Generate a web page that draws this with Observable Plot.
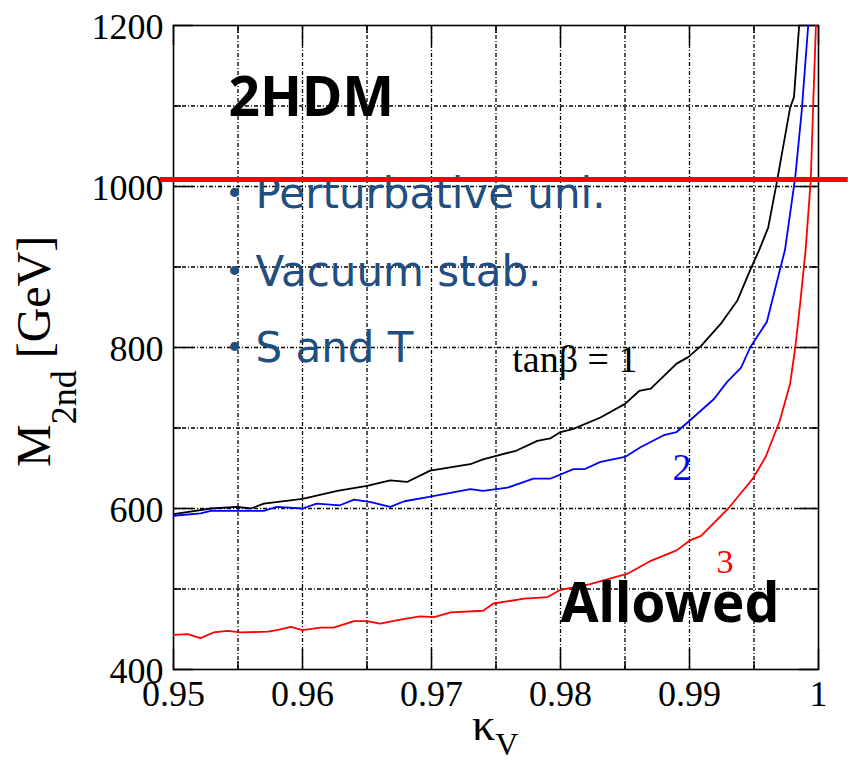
<!DOCTYPE html>
<html>
<head>
<meta charset="utf-8">
<script src="https://cdn.jsdelivr.net/npm/d3@7"></script>
<script src="https://cdn.jsdelivr.net/npm/@observablehq/plot@0.6"></script>
<style>
  html, body { margin: 0; padding: 0; background: #fff; }
  #chart svg { display: block; }
</style>
</head>
<body>
<div id="chart"></div>
<script>
// Upper bound on the second-heaviest Higgs mass vs. kappa_V in the 2HDM
const kappa1 = [0.95, 0.9529, 0.9549, 0.956, 0.957, 0.960, 0.9627, 0.965, 0.9668, 0.9681, 0.9699, 0.973, 0.974, 0.9766, 0.9782, 0.9792, 0.98, 0.981, 0.9831, 0.985, 0.9861, 0.987, 0.989, 0.9899, 0.9909, 0.9924, 0.9937, 0.9947, 0.9954, 0.9961, 0.9968, 0.9978, 0.9981, 0.9985];
const mass1  = [593, 600, 602, 600, 606, 612, 622, 628, 635, 633, 647, 655, 661, 672, 684, 687, 695, 699, 713, 730, 746, 749, 780, 788, 802, 829, 858, 896, 921, 949, 1008, 1098, 1111, 1200];

const kappa2 = [0.95, 0.9521, 0.9529, 0.9549, 0.957, 0.958, 0.96, 0.9611, 0.9629, 0.964, 0.9653, 0.9668, 0.9679, 0.9697, 0.973, 0.974, 0.9759, 0.9779, 0.9792, 0.981, 0.9819, 0.9831, 0.985, 0.9862, 0.988, 0.989, 0.99, 0.9919, 0.9929, 0.994, 0.9947, 0.996, 0.997, 0.9974, 0.9982, 0.9987, 0.9992];
const mass2  = [591, 594, 597, 597, 597, 602, 600, 606, 604, 611, 608, 602, 609, 614, 624, 622, 626, 637, 637, 649, 649, 658, 664, 676, 691, 695, 709, 736, 757, 775, 800, 832, 896, 921, 1012, 1094, 1200];

const kappa3 = [0.95, 0.9511, 0.9521, 0.9531, 0.9542, 0.9552, 0.9573, 0.958, 0.9591, 0.96, 0.9614, 0.9624, 0.964, 0.965, 0.966, 0.9676, 0.9691, 0.9702, 0.9715, 0.974, 0.9748, 0.9772, 0.979, 0.98, 0.9823, 0.9852, 0.987, 0.989, 0.99, 0.9909, 0.993, 0.9949, 0.9959, 0.997, 0.9978, 0.9982, 0.9986, 0.999, 0.9994, 0.9996, 0.9998];
const mass3  = [443, 444, 439, 446, 448, 446, 447, 449, 453, 449, 452, 452, 460, 460, 457, 462, 466, 465, 471, 473, 482, 488, 490, 499, 506, 519, 535, 548, 560, 566, 600, 637, 664, 709, 755, 800, 858, 921, 1008, 1107, 1200];

const xTicks = [0.95, 0.96, 0.97, 0.98, 0.99, 1];
const xMinor = [0.955, 0.965, 0.975, 0.985, 0.995];
const yTicks = [400, 600, 800, 1000, 1200];
const yMinor = [500, 700, 900, 1100];

const bulletLines = ["・Perturbative uni.", "・Vacuum stab.", "・S and T"];
const bulletMass = [972.7, 877, 781.4];
const limitMass = 1008.7; // 1 TeV reference line

const series = (k, m) => k.map((x, i) => ({kappa: x, mass: m[i]}));
const s1 = series(kappa1, mass1);
const s2 = series(kappa2, mass2);
const s3 = series(kappa3, mass3);

const xGrid = xTicks.concat(xMinor).filter(d => d > 0.95 && d < 1);
const yGrid = yTicks.concat(yMinor).filter(d => d > 400 && d < 1200);

// inward tick lengths in data units (px / scale factor)
const xLen = 1 / 12900, yLen = 1 / 0.805;

const dash = {stroke: "#000", strokeWidth: 1.3, strokeDasharray: "4,2,1,2"};

const chart = Plot.plot({
  width: 848,
  height: 760,
  marginLeft: 173,
  marginRight: 30,
  marginTop: 25,
  marginBottom: 91,
  x: {domain: [0.95, 1.0]},
  y: {domain: [400, 1200]},
  style: {fontFamily: "Liberation Serif", background: "#fff", color: "#000"},
  marks: [
    Plot.ruleX(xGrid, {...dash, y1: 400, y2: 1200}),
    Plot.ruleY(yGrid, {...dash, x1: 0.95, x2: 1.0}),
    // inward tick marks on all four sides
    Plot.ruleX(xTicks, {y1: 400, y2: 400 + 20 * yLen, stroke: "#000", strokeWidth: 1.5}),
    Plot.ruleX(xTicks, {y1: 1200, y2: 1200 - 20 * yLen, stroke: "#000", strokeWidth: 1.5}),
    Plot.ruleX(xMinor, {y1: 400, y2: 400 + 8 * yLen, stroke: "#000", strokeWidth: 1.5}),
    Plot.ruleX(xMinor, {y1: 1200, y2: 1200 - 8 * yLen, stroke: "#000", strokeWidth: 1.5}),
    Plot.ruleY(yTicks, {x1: 0.95, x2: 0.95 + 20 * xLen, stroke: "#000", strokeWidth: 1.5}),
    Plot.ruleY(yTicks, {x1: 1.0, x2: 1.0 - 20 * xLen, stroke: "#000", strokeWidth: 1.5}),
    Plot.ruleY(yMinor, {x1: 0.95, x2: 0.95 + 8 * xLen, stroke: "#000", strokeWidth: 1.5}),
    Plot.ruleY(yMinor, {x1: 1.0, x2: 1.0 - 8 * xLen, stroke: "#000", strokeWidth: 1.5}),
    Plot.frame({stroke: "#000", strokeWidth: 1.6}),
    Plot.axisX(xTicks, {
      tickSize: 0, tickPadding: 11, fontSize: 36, label: null,
      tickFormat: d => d === 1 ? "1" : d.toFixed(2)
    }),
    Plot.axisY(yTicks, {
      tickSize: 0, tickPadding: 10, fontSize: 36, label: null, dy: 2,
      tickFormat: d => String(d)
    }),
    Plot.line(s1, {x: "kappa", y: "mass", stroke: "#000", strokeWidth: 1.8, clip: true}),
    Plot.line(s2, {x: "kappa", y: "mass", stroke: "#0000ff", strokeWidth: 1.8, clip: true}),
    Plot.line(s3, {x: "kappa", y: "mass", stroke: "#ff0000", strokeWidth: 1.8, clip: true}),
    // curve labels
    Plot.text(["tanβ = 1"], {x: 0.98597, y: 769, text: d => d, textAnchor: "end", lineAnchor: "bottom", fontSize: 38, fill: "#000"}),
    Plot.text(["2"], {x: 0.98942, y: 634.8, text: d => d, lineAnchor: "bottom", fontSize: 38, fill: "#0000ff"}),
    Plot.text(["3"], {x: 0.99275, y: 519.3, text: d => d, lineAnchor: "bottom", fontSize: 34, fill: "#ff0000"}),
    // model and constraints annotations
    Plot.text(["2HDM"], {x: 0.95426, y: 1088, text: d => d, textAnchor: "start", lineAnchor: "bottom",
      fontSize: 55, fontWeight: "bold", fontFamily: "Noto Sans", fill: "#000"}),
    Plot.text(bulletLines, {x: 0.9531, y: (d, i) => bulletMass[i], text: d => d, textAnchor: "start", lineAnchor: "bottom",
      fontSize: 42, fontFamily: "DejaVu Sans, Noto Sans CJK JP", fill: "#1f4e80"}),
    Plot.text(["Allowed"], {x: 0.98, y: 458.4, text: d => d, textAnchor: "start", lineAnchor: "bottom",
      fontSize: 55, fontWeight: "bold", fontFamily: "Noto Sans", fill: "#000"}),
    // 1 TeV line
    Plot.ruleY([limitMass], {x1: 0.94899, x2: 1.0023, stroke: "#ff0000", strokeWidth: 5})
  ]
});

// axis titles with subscripts
const svg = d3.select(chart);
const yLab = svg.append("text")
  .attr("transform", "translate(50,467) rotate(-90)")
  .attr("text-anchor", "start")
  .attr("font-family", "Liberation Serif")
  .attr("font-size", 48)
  .attr("fill", "#000");
yLab.append("tspan").text("M");
yLab.append("tspan").attr("font-size", 36).attr("dy", 26).text("2nd");
yLab.append("tspan").attr("dy", -26).text(" [GeV]");

const xLab = svg.append("text")
  .attr("x", 472).attr("y", 740)
  .attr("text-anchor", "start")
  .attr("font-family", "Liberation Serif")
  .attr("font-size", 46)
  .attr("fill", "#000");
xLab.append("tspan").text("κ");
xLab.append("tspan").attr("font-size", 32).attr("dy", 15).text("V");

document.getElementById("chart").appendChild(chart);
</script>
</body>
</html>
